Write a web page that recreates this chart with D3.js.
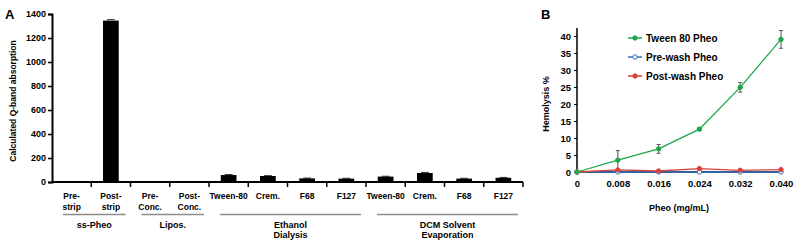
<!DOCTYPE html>
<html>
<head>
<meta charset="utf-8">
<script src="https://cdnjs.cloudflare.com/ajax/libs/d3/7.8.5/d3.min.js"></script>
<style>
  body { margin: 0; background: #fff; }
  svg { font-family: "Liberation Sans", Arial, sans-serif; font-weight: bold; }
  .axis path, .axis line { stroke: #000; }
  .axis text { font-size: 9px; font-weight: bold; fill: #000; }
</style>
</head>
<body>
<div id="chart"></div>
<script>
// Panel A: calculated Q-band absorption
const catLine1 = ["Pre-", "Post-", "Pre-", "Post-", "Tween-80", "Crem.", "F68", "F127", "Tween-80", "Crem.", "F68", "F127"];
const catLine2 = ["strip", "strip", "Conc.", "Conc.", "", "", "", "", "", "", "", ""];
const absorption = [0, 1345, 0, 0, 58, 50, 30, 28, 45, 75, 28, 35];
const absorptionErr = [0, 8, 0, 0, 4, 3, 3, 3, 3, 5, 3, 3];
const groups = [
  { name: ["ss-Pheo"], from: 0, to: 1 },
  { name: ["Lipos."], from: 2, to: 3 },
  { name: ["Ethanol", "Dialysis"], from: 4, to: 7 },
  { name: ["DCM Solvent", "Evaporation"], from: 8, to: 11 }
];
const yTicksA = [0, 200, 400, 600, 800, 1000, 1200, 1400];

// Panel B: hemolysis
const conc = [0, 0.008, 0.016, 0.024, 0.032, 0.040];
const xTickLabelsB = ["0", "0.008", "0.016", "0.024", "0.032", "0.040"];
const yTicksB = [0, 5, 10, 15, 20, 25, 30, 35, 40];
const tween80 = [0, 3.5, 6.8, 12.6, 24.9, 39.0];
const tween80Err = [0, 2.8, 1.3, 0.4, 1.4, 2.6];
const preWash = [0, 0, 0, 0, 0, 0];
const postWash = [0, 0.6, 0.3, 1.0, 0.5, 0.7];
const seriesNames = ["Tween 80 Pheo", "Pre-wash Pheo", "Post-wash Pheo"];
const seriesColors = ["#1fa64a", "#2f6fc4", "#d8413c"];

const svg = d3.select("#chart").append("svg")
  .attr("width", 800)
  .attr("height", 246);

// ---------- Panel A ----------
const a = { left: 52, right: 523, top: 14, bottom: 182 };

const xA = d3.scaleBand()
  .domain(d3.range(absorption.length))
  .range([a.left, a.right])
  .paddingInner(0).paddingOuter(0);

const yA = d3.scaleLinear()
  .domain([0, 1400])
  .range([a.bottom, a.top]);

svg.append("text")
  .attr("x", 5).attr("y", 19)
  .style("font-size", "13px")
  .text("A");

// bars
svg.append("g")
  .selectAll("rect")
  .data(absorption)
  .enter()
  .append("rect")
  .attr("x", (d, i) => xA(i) + xA.bandwidth() * 0.3)
  .attr("width", xA.bandwidth() * 0.4)
  .attr("y", d => yA(d))
  .attr("height", d => yA(0) - yA(d))
  .attr("fill", "#000");

// error caps (tiny)
svg.append("g")
  .selectAll("line")
  .data(absorption.map((d, i) => ({ v: d, e: absorptionErr[i], i: i })).filter(d => d.v > 0))
  .enter()
  .append("line")
  .attr("x1", d => xA(d.i) + xA.bandwidth() * 0.4)
  .attr("x2", d => xA(d.i) + xA.bandwidth() * 0.6)
  .attr("y1", d => yA(d.v + d.e))
  .attr("y2", d => yA(d.v + d.e))
  .attr("stroke", "#000")
  .attr("stroke-width", 0.8);

// y axis
svg.append("g")
  .attr("class", "axis")
  .attr("transform", `translate(${a.left},0)`)
  .call(d3.axisLeft(yA).tickValues(yTicksA).tickFormat(d3.format("d")).tickSize(4).tickPadding(2))
  .call(g => g.select(".domain").attr("stroke-width", 2))
  .call(g => g.selectAll(".tick line").attr("stroke-width", 1.5));

// x axis: tick marks at band boundaries
const boundaries = d3.range(1, absorption.length + 1).map(i => a.left + i * xA.bandwidth());
const xAxisA = svg.append("g").attr("class", "axis");
xAxisA.append("line")
  .attr("x1", a.left).attr("x2", a.right)
  .attr("y1", a.bottom).attr("y2", a.bottom)
  .attr("stroke", "#000").attr("stroke-width", 2);
xAxisA.selectAll(".btick")
  .data(boundaries)
  .enter()
  .append("line")
  .attr("x1", d => d).attr("x2", d => d)
  .attr("y1", a.bottom).attr("y2", a.bottom + 5)
  .attr("stroke", "#000").attr("stroke-width", 1.5);

// category labels
const catG = svg.append("g").style("font-size", "8.5px").attr("text-anchor", "middle");
catG.selectAll(".l1")
  .data(catLine1)
  .enter()
  .append("text")
  .attr("x", (d, i) => xA(i) + xA.bandwidth() / 2)
  .attr("y", 199)
  .text(d => d);
catG.selectAll(".l2")
  .data(catLine2)
  .enter()
  .append("text")
  .attr("x", (d, i) => xA(i) + xA.bandwidth() / 2)
  .attr("y", 210)
  .text(d => d);

// group brackets
const grpG = svg.append("g");
groups.forEach(g => {
  const x0 = xA(g.from) + 11;
  const x1 = xA(g.to) + xA.bandwidth() - 5;
  grpG.append("line")
    .attr("x1", x0).attr("x2", x1)
    .attr("y1", 214.5).attr("y2", 214.5)
    .attr("stroke", "#8c8c8c").attr("stroke-width", 1.5);
  g.name.forEach((n, k) => {
    grpG.append("text")
      .attr("x", (x0 + x1) / 2)
      .attr("y", 228 + k * 10)
      .attr("text-anchor", "middle")
      .style("font-size", "9px")
      .text(n);
  });
});

svg.append("text")
  .attr("transform", `translate(16,${(a.top + a.bottom) / 2 + 3}) rotate(-90)`)
  .attr("text-anchor", "middle")
  .style("font-size", "8.5px")
  .text("Calculated Q-band absorption");

// ---------- Panel B ----------
const b = { left: 577, right: 781, top: 36, bottom: 172 };

const xB = d3.scaleLinear()
  .domain([0, 0.040])
  .range([b.left, b.right]);

const yB = d3.scaleLinear()
  .domain([0, 40])
  .range([b.bottom, b.top]);

svg.append("text")
  .attr("x", 541).attr("y", 19)
  .style("font-size", "13px")
  .text("B");

svg.append("g")
  .attr("class", "axis")
  .attr("transform", `translate(${b.left},0)`)
  .call(d3.axisLeft(yB).tickValues(yTicksB).tickSize(3).tickPadding(3))
  .call(g => g.select(".domain").attr("d", `M0,${b.top - 8}V${b.bottom}`).attr("stroke-width", 1.5))
  .call(g => g.selectAll(".tick text").style("font-size", "9.5px"));

svg.append("g")
  .attr("class", "axis")
  .attr("transform", `translate(0,${b.bottom})`)
  .call(d3.axisBottom(xB).tickValues(conc).tickSize(0).tickPadding(8)
    .tickFormat((d, i) => xTickLabelsB[i]))
  .call(g => g.select(".domain").attr("d", `M${b.left},0H${b.right}`).attr("stroke-width", 1.5))
  .call(g => g.selectAll(".tick text").style("font-size", "9.5px"));

svg.append("text")
  .attr("transform", `translate(549,${(b.top + b.bottom) / 2}) rotate(-90)`)
  .attr("text-anchor", "middle")
  .style("font-size", "9px")
  .text("Hemolysis %");

svg.append("text")
  .attr("x", (b.left + b.right) / 2)
  .attr("y", 211)
  .attr("text-anchor", "middle")
  .style("font-size", "9px")
  .text("Pheo (mg/mL)");

// error bars for Tween 80
const errG = svg.append("g").attr("stroke", "#555").attr("stroke-width", 1);
conc.forEach((c, i) => {
  if (tween80Err[i] <= 0) return;
  const x = xB(c);
  const y0 = yB(tween80[i] - tween80Err[i]);
  const y1 = yB(tween80[i] + tween80Err[i]);
  errG.append("line").attr("x1", x).attr("x2", x).attr("y1", y0).attr("y2", y1);
  errG.append("line").attr("x1", x - 2).attr("x2", x + 2).attr("y1", y0).attr("y2", y0);
  errG.append("line").attr("x1", x - 2).attr("x2", x + 2).attr("y1", y1).attr("y2", y1);
});

const line = d3.line()
  .x((d, i) => xB(conc[i]))
  .y(d => yB(d));

const allSeries = [preWash, postWash, tween80];
const drawOrder = [1, 2, 0];
drawOrder.forEach((s, k) => {
  const vals = allSeries[k];
  const g = svg.append("g");
  g.append("path")
    .datum(vals)
    .attr("d", line)
    .attr("fill", "none")
    .attr("stroke", seriesColors[s])
    .attr("stroke-width", 1.3);
  g.selectAll("circle")
    .data(vals)
    .enter()
    .append("circle")
    .attr("cx", (d, i) => xB(conc[i]))
    .attr("cy", d => yB(d))
    .attr("r", 2.2)
    .attr("fill", s === 1 ? "#fff" : seriesColors[s])
    .attr("stroke", seriesColors[s])
    .attr("stroke-width", 1);
});

// legend
const leg = svg.append("g").attr("transform", "translate(628,38)");
seriesNames.forEach((n, i) => {
  const row = leg.append("g").attr("transform", `translate(0,${i * 19})`);
  row.append("line")
    .attr("x1", 0).attr("x2", 14)
    .attr("stroke", seriesColors[i]).attr("stroke-width", 1.5);
  row.append("circle")
    .attr("cx", 7).attr("r", 2.2)
    .attr("fill", i === 1 ? "#fff" : seriesColors[i])
    .attr("stroke", seriesColors[i]).attr("stroke-width", 1);
  row.append("text")
    .attr("x", 18).attr("y", 3.5)
    .style("font-size", "10px")
    .text(n);
});
</script>
</body>
</html>
